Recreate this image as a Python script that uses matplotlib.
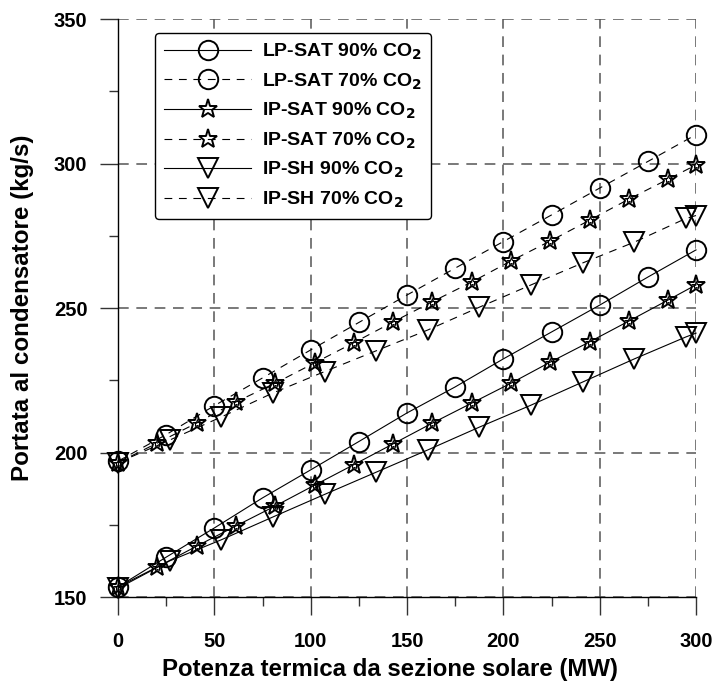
import matplotlib.pyplot as plt
import numpy as np

plt.rcParams['font.family'] = ['Liberation Sans', 'DejaVu Sans']
plt.rcParams['font.weight'] = 'bold'
plt.rcParams['mathtext.default'] = 'bf'

# LP-SAT (circles)
x_lp = [0, 25, 50, 75, 100, 125, 150, 175, 200, 225, 250, 275, 300]
lp_90 = [153.5, 163.8, 173.9, 184.3, 194.0, 203.8, 213.7, 222.7, 232.4, 241.7, 251.0, 260.7, 270.1]
lp_70 = [197.0, 206.2, 216.2, 225.8, 235.5, 245.0, 254.5, 263.8, 273.0, 282.2, 291.5, 300.7, 310.0]

# IP-SAT (stars)
x_ips = [0, 20.4, 40.8, 61.2, 81.6, 102, 122.4, 142.8, 163.2, 183.6, 204, 224.4, 244.8, 265.2, 285.6, 300]
ips_90 = [153.5, 160.4, 167.6, 174.6, 181.5, 188.7, 195.8, 203.0, 210.2, 217.1, 224.0, 231.3, 238.3, 245.5, 252.8, 258.0]
ips_70 = [196.5, 203.3, 210.2, 217.5, 224.0, 231.0, 238.0, 245.2, 252.2, 259.0, 266.3, 273.2, 280.4, 287.7, 294.6, 299.5]

# IP-SH (triangles)
x_sh = [0, 26.8, 53.6, 80.4, 107.2, 134, 160.8, 187.6, 214.4, 241.2, 268, 294.8, 300]
sh_90 = [153.0, 162.5, 169.8, 177.7, 185.5, 193.2, 200.9, 208.8, 216.4, 224.4, 232.4, 240.0, 241.3]
sh_70 = [196.5, 204.3, 212.3, 220.6, 228.0, 235.2, 242.4, 250.3, 258.0, 265.6, 272.8, 281.0, 282.0]

labels = ['LP-SAT 90% CO$_2$', 'LP-SAT 70% CO$_2$',
          'IP-SAT 90% CO$_2$', 'IP-SAT 70% CO$_2$',
          'IP-SH 90% CO$_2$', 'IP-SH 70% CO$_2$']

fig = plt.figure(figsize=(7.14, 6.86), dpi=100)
ax = fig.add_axes([0.1653, 0.1297, 0.8095, 0.8426])

dash = (0, (7, 6))
series = [
    (x_lp, lp_90, 'o', '-', 14),
    (x_lp, lp_70, 'o', dash, 14),
    (x_ips, ips_90, '*', '-', 14),
    (x_ips, ips_70, '*', dash, 14),
    (x_sh, sh_90, 'v', '-', 14),
    (x_sh, sh_70, 'v', dash, 14),
]
for (xs, ys, mk, ls, ms), lab in zip(series, labels):
    ax.plot(xs, ys, color='black', lw=0.8, linestyle=ls, marker=mk,
            markersize=ms, markerfacecolor='none', markeredgecolor='black',
            markeredgewidth=1.4, label=lab, clip_on=False, zorder=3)
    if mk == '*':
        # inner small star like the original symbol
        ax.plot(xs, ys, linestyle='none', marker='*', markersize=6,
                markerfacecolor='none', markeredgecolor='black',
                markeredgewidth=0.8, clip_on=False, zorder=3)

ax.set_xlim(0, 300)
ax.set_ylim(150, 350)
ax.set_xticks(np.arange(0, 301, 50))
ax.set_xticks(np.arange(25, 300, 50), minor=True)
ax.set_yticks(np.arange(150, 351, 50))
ax.set_yticks(np.arange(175, 350, 50), minor=True)

for s in ['top', 'right']:
    ax.spines[s].set_visible(False)
for s in ['left', 'bottom']:
    ax.spines[s].set_linewidth(1.0)
    ax.spines[s].set_color('black')
    ax.spines[s].set_zorder(2.5)

ax.tick_params(axis='x', which='major', pad=12)
ax.tick_params(axis='y', which='major', pad=9)
ax.tick_params(which='major', direction='out', length=13, width=1.0, color='#333333',
               labelsize=14.5)
ax.tick_params(which='minor', direction='out', length=6.5, width=1.0, color='#333333')
for t in ax.get_xticklabels() + ax.get_yticklabels():
    t.set_fontweight('bold')

ax.grid(True, which='major', color='#555555', linestyle=(0, (7, 5)), linewidth=1.1)
ax.set_axisbelow(True)

ax.set_xlabel('Potenza termica da sezione solare (MW)', fontsize=16, fontweight='bold')
ax.set_ylabel('Portata al condensatore (kg/s)', fontsize=16, fontweight='bold')

leg = ax.legend(loc='upper left', bbox_to_anchor=(0.064, 0.976), fontsize=14,
                handlelength=4.5, frameon=True, fancybox=True, framealpha=1,
                edgecolor='black', borderpad=0.45, labelspacing=0.48, handletextpad=0.55,
                borderaxespad=0)
leg.get_frame().set_linewidth(1.0)
for t in leg.get_texts():
    t.set_fontweight('bold')

# size axis labels to the lengths measured on the original (px)
fig.canvas.draw()
r = fig.canvas.get_renderer()
xl, yl = ax.xaxis.label, ax.yaxis.label
xl.set_fontsize(16 * 456 / xl.get_window_extent(r).width)
yl.set_fontsize(16 * 345 / yl.get_window_extent(r).height)

# x label sits a bit left of the axis centre, y label at x ~ 22 px
ax.xaxis.set_label_coords(0.4706, -0.125)
ax.yaxis.set_label_coords(-0.166, 0.5)
xl.set_va('center')
yl.set_va('center')

fig.savefig('out.png', dpi=100)
